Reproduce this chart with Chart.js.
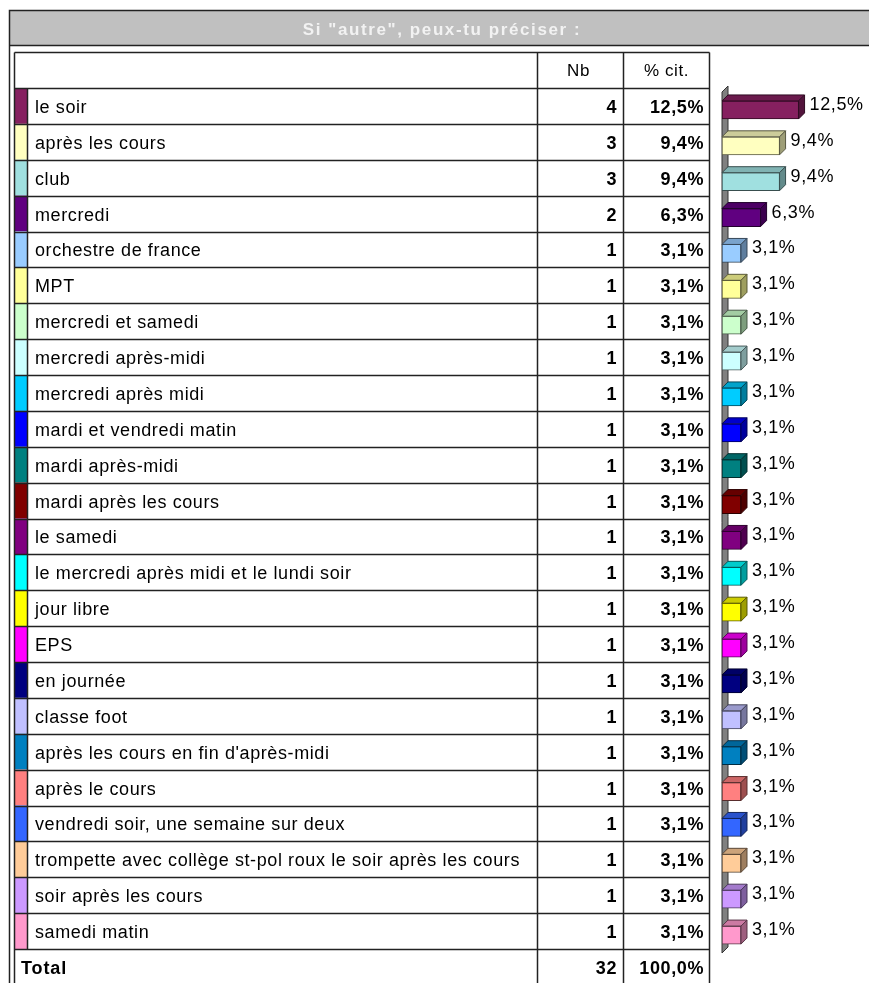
<!DOCTYPE html>
<html>
<head>
<meta charset="utf-8">
<script src="https://cdn.jsdelivr.net/npm/chart.js@4"></script>
<style>
  html, body { margin: 0; padding: 0; background: #fff; }
  #wrap { width: 869px; height: 983px; position: relative; }
</style>
</head>
<body>
<div id="wrap"><canvas id="chart_1" width="869" height="983"></canvas></div>
<script>
const title = 'Si "autre", peux-tu préciser :';
const headers = ['Nb', '% cit.'];
const categories = [
    'le soir', 'après les cours', 'club', 'mercredi', 'orchestre de france', 'MPT',
    'mercredi et samedi', 'mercredi après-midi', 'mercredi après midi', 'mardi et vendredi matin',
    'mardi après-midi', 'mardi après les cours', 'le samedi', 'le mercredi après midi et le lundi soir',
    'jour libre', 'EPS', 'en journée', 'classe foot', "après les cours en fin d'après-midi",
    'après le cours', 'vendredi soir, une semaine sur deux',
    'trompette avec collège st-pol roux le soir après les cours', 'soir après les cours', 'samedi matin'
];
const counts = [4, 3, 3, 2, 1, 1, 1, 1, 1, 1, 1, 1, 1, 1, 1, 1, 1, 1, 1, 1, 1, 1, 1, 1];
const percents = [12.5, 9.4, 9.4, 6.3, 3.1, 3.1, 3.1, 3.1, 3.1, 3.1, 3.1, 3.1, 3.1, 3.1, 3.1, 3.1, 3.1, 3.1, 3.1, 3.1, 3.1, 3.1, 3.1, 3.1];
const colors = [
    '#862060', '#FFFFC0', '#A0E0E0', '#600080', '#99CCFF', '#FFFF99',
    '#CCFFCC', '#CCFFFF', '#00CCFF', '#0000FF', '#008080', '#800000',
    '#800080', '#00FFFF', '#FFFF00', '#FF00FF', '#000080', '#C0C0FF',
    '#0080C0', '#FF8080', '#3366FF', '#FFCC99', '#CC99FF', '#FF99CC'
];
const totalLabel = 'Total';
const totalCount = 32;
const totalPercent = 100.0;

const fmtPct = v => v.toFixed(1).replace('.', ',') + '%';

function shade(hex, f) {
    const n = parseInt(hex.slice(1), 16);
    const r = Math.round(((n >> 16) & 255) * f);
    const g = Math.round(((n >> 8) & 255) * f);
    const b = Math.round((n & 255) * f);
    return 'rgb(' + r + ',' + g + ',' + b + ')';
}

const DEPTH = 6;
const FONT = 'Arial, "Liberation Sans", sans-serif';
const SPACING = '0.6px';

// table + title + back wall, drawn before the bars
const tablePlugin = {
    id: 'tablePlugin',
    beforeDatasetsDraw(chart) {
        const ctx = chart.ctx;
        const area = chart.chartArea;
        const n = categories.length;
        const rowH = (area.bottom - area.top) / n;
        const top = area.top - 4;
        const colX = [14.5, 537.5, 623.5, 709.5];
        ctx.save();

        // title bar
        ctx.fillStyle = '#C0C0C0';
        ctx.fillRect(9, 10, 870, 35);
        ctx.strokeStyle = '#222';
        ctx.lineWidth = 1.5;
        ctx.beginPath();
        ctx.moveTo(9.5, 1000); ctx.lineTo(9.5, 10.5); ctx.lineTo(870, 10.5);
        ctx.moveTo(9.5, 45.5); ctx.lineTo(870, 45.5);
        ctx.stroke();
        ctx.fillStyle = '#F2F2F2';
        ctx.font = 'bold 17px ' + FONT;
        ctx.letterSpacing = '1.6px';
        ctx.textAlign = 'center';
        ctx.textBaseline = 'alphabetic';
        ctx.fillText(title, 442, 35);

        ctx.letterSpacing = SPACING;

        // header row
        const headTop = 52.5;
        ctx.fillStyle = '#000';
        ctx.font = '17px ' + FONT;
        ctx.fillText(headers[0], (colX[1] + colX[2]) / 2 - 2, 76);
        ctx.fillText(headers[1], (colX[2] + colX[3]) / 2, 76);

        // swatches
        for (let i = 0; i < n; i++) {
            const y0 = top + i * rowH;
            ctx.fillStyle = colors[i];
            ctx.fillRect(15, y0, 12, rowH);
        }

        // grid
        const bottom = top + (n + 1) * rowH;
        ctx.strokeStyle = '#222';
        ctx.lineWidth = 1.5;
        ctx.beginPath();
        ctx.moveTo(colX[0], headTop); ctx.lineTo(colX[3], headTop);
        for (let i = 0; i <= n; i++) {
            const y = Math.round(top + i * rowH) + 0.5;
            ctx.moveTo(colX[0], y); ctx.lineTo(colX[3], y);
        }
        colX.forEach(x => { ctx.moveTo(x, headTop); ctx.lineTo(x, bottom); });
        ctx.moveTo(27.5, top); ctx.lineTo(27.5, top + n * rowH);
        ctx.stroke();

        // row texts
        ctx.textBaseline = 'alphabetic';
        for (let i = 0; i < n; i++) {
            const by = top + i * rowH + rowH / 2 + 7;
            ctx.fillStyle = '#000';
            ctx.textAlign = 'left';
            ctx.font = '18px ' + FONT;
            ctx.fillText(categories[i], 35, by);
            ctx.textAlign = 'right';
            ctx.font = 'bold 18px ' + FONT;
            ctx.fillText(String(counts[i]), 617, by);
            ctx.fillText(fmtPct(percents[i]), 704, by);
        }
        const ty = top + n * rowH + rowH / 2 + 7;
        ctx.textAlign = 'left';
        ctx.font = 'bold 18px ' + FONT;
        ctx.letterSpacing = '0.9px';
        ctx.fillText(totalLabel, 21, ty);
        ctx.letterSpacing = SPACING;
        ctx.textAlign = 'right';
        ctx.fillText(String(totalCount), 617, ty);
        ctx.fillText(fmtPct(totalPercent), 704, ty);

        // 3d back wall of the chart
        const L = area.left;
        const wt = area.top, wb = area.bottom;
        ctx.fillStyle = '#808080';
        ctx.strokeStyle = '#333';
        ctx.lineWidth = 1;
        ctx.beginPath();
        ctx.moveTo(L, wt); ctx.lineTo(L + DEPTH, wt - DEPTH);
        ctx.lineTo(L + DEPTH, wb - DEPTH); ctx.lineTo(L, wb);
        ctx.closePath();
        ctx.fill(); ctx.stroke();
        ctx.restore();
    },
    // top and side faces of the bars, plus value labels
    afterDatasetsDraw(chart) {
        const ctx = chart.ctx;
        const meta = chart.getDatasetMeta(0);
        ctx.save();
        ctx.lineWidth = 1;
        meta.data.forEach((bar, i) => {
            const x0 = bar.base, x1 = bar.x;
            const y0 = bar.y - bar.height / 2, y1 = bar.y + bar.height / 2;
            ctx.strokeStyle = shade(colors[i], 0.35);
            ctx.fillStyle = shade(colors[i], 0.8);
            ctx.beginPath();
            ctx.moveTo(x0, y0); ctx.lineTo(x0 + DEPTH, y0 - DEPTH);
            ctx.lineTo(x1 + DEPTH, y0 - DEPTH); ctx.lineTo(x1, y0);
            ctx.closePath(); ctx.fill(); ctx.stroke();
            ctx.fillStyle = shade(colors[i], 0.62);
            ctx.beginPath();
            ctx.moveTo(x1, y0); ctx.lineTo(x1 + DEPTH, y0 - DEPTH);
            ctx.lineTo(x1 + DEPTH, y1 - DEPTH); ctx.lineTo(x1, y1);
            ctx.closePath(); ctx.fill(); ctx.stroke();
            ctx.fillStyle = '#000';
            ctx.font = '18px ' + FONT;
            ctx.letterSpacing = SPACING;
            ctx.textAlign = 'left';
            ctx.textBaseline = 'alphabetic';
            ctx.fillText(fmtPct(percents[i]), x1 + DEPTH + 5, bar.y);
        });
        ctx.restore();
    }
};

const ctx1 = document.getElementById('chart_1').getContext('2d');
const myChart1 = new Chart(ctx1, {
    type: 'bar',
    data: {
        labels: categories,
        datasets: [{
            label: '% cit.',
            data: percents,
            backgroundColor: colors,
            borderColor: colors.map(c => shade(c, 0.35)),
            borderWidth: 1,
            borderSkipped: false,
            barThickness: 18
        }]
    },
    options: {
        indexAxis: 'y',
        responsive: false,
        animation: false,
        layout: { padding: { left: 722, top: 92, right: 0, bottom: 30 } },
        plugins: { legend: { display: false }, tooltip: { enabled: false } },
        scales: {
            x: { display: false, min: 0, max: 24 },
            y: { display: false }
        }
    },
    plugins: [tablePlugin]
});
</script>
</body>
</html>
